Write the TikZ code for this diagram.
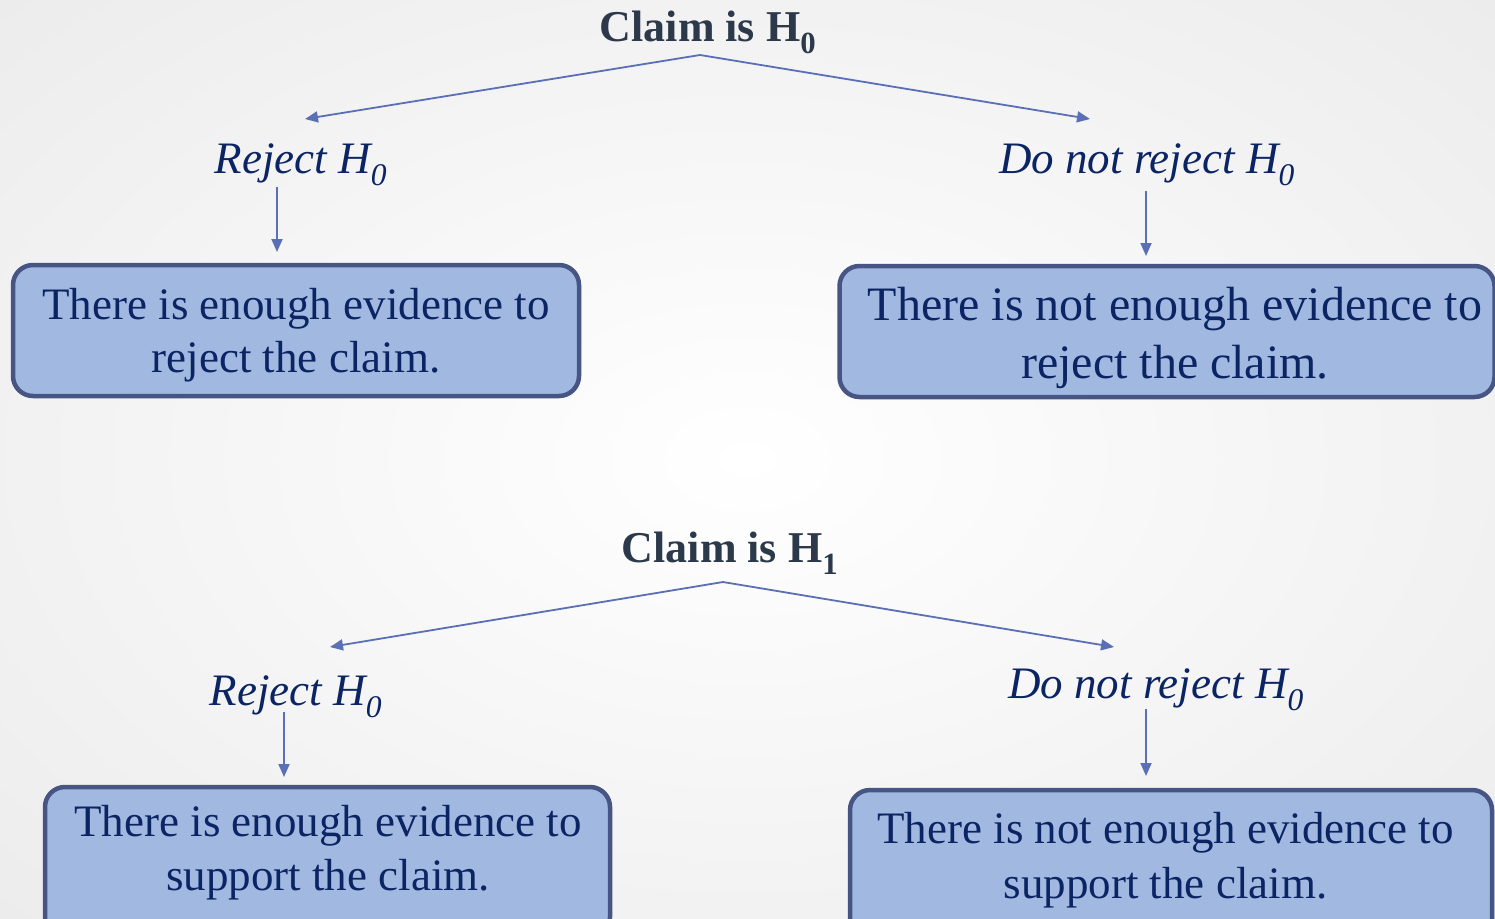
\documentclass[tikz,border=0pt]{standalone}
\usepackage{fontspec}
\setmainfont{Liberation Serif}
\usetikzlibrary{arrows.meta}
\definecolor{boxfill}{HTML}{A1B9E1}
\definecolor{boxline}{HTML}{465584}
\definecolor{boxtext}{HTML}{0B2463}
\definecolor{arr}{HTML}{5A6FB6}
\definecolor{titlec}{HTML}{2B394B}
\definecolor{bg}{HTML}{ECECEC}
\tikzset{
  titlenode/.style={font=\fontsize{44}{50}\selectfont\bfseries, text=titlec, inner sep=0pt},
  choice/.style={font=\fontsize{45}{50}\selectfont\itshape, text=boxtext, inner sep=0pt},
  resbox/.style={draw=boxline, line width=4.5pt, fill=boxfill, rounded corners=20pt, inner sep=0pt},
  restext/.style={text=boxtext, align=center, inner sep=0pt},
  conn/.style={draw=arr, line width=1.8pt, -{Triangle[length=13pt,width=11pt]}},
}
\begin{document}
\begin{tikzpicture}[x=1pt,y=-1pt]
\useasboundingbox (0,0) rectangle (1495,918);
\clip (0,0) rectangle (1495,918);
\shade[inner color=white, outer color=bg] (-300,-200) rectangle (1795,1118);
% top tree
\node[titlenode] (t1) at (708,32) {Claim is H\textsubscript{0}};
\coordinate (a1) at (700,55);
\coordinate (l1) at (305,119);
\coordinate (r1) at (1090,119);
\node[choice] (rej1) at (301,165) {Reject H\textsubscript{0}};
\node[choice] (nrej1) at (1147,165) {Do not reject H\textsubscript{0}};
\coordinate (v1s) at (277,187);
\coordinate (v1e) at (277,252);
\coordinate (v2s) at (1146,191);
\coordinate (v2e) at (1146,256);
\node[resbox, minimum width=566pt, minimum height=131pt] (b1) at (296,330.5) {};
\node[restext, font=\fontsize{45}{53}\selectfont] (b1t) at (296,335)
  {There is enough evidence to\\reject the claim.};
\node[resbox, minimum width=655pt, minimum height=131pt] (b2) at (1167,331.5) {};
\node[restext, font=\fontsize{48}{58}\selectfont] (b2t) at (1175,338)
  {There is not enough evidence to\\reject the claim.};
\draw[conn] (a1) -- (l1);
\draw[conn] (a1) -- (r1);
\draw[conn] (v1s) -- (v1e);
\draw[conn] (v2s) -- (v2e);
% bottom tree
\node[titlenode] (t2) at (730,553) {Claim is H\textsubscript{1}};
\coordinate (a2) at (723,582);
\coordinate (l2) at (330,647);
\coordinate (r2) at (1114,647);
\node[choice] (rej2) at (296,697) {Reject H\textsubscript{0}};
\node[choice] (nrej2) at (1156,690) {Do not reject H\textsubscript{0}};
\coordinate (v3s) at (284,712);
\coordinate (v3e) at (284,777);
\coordinate (v4s) at (1146,709);
\coordinate (v4e) at (1146,776);
\node[resbox, minimum width=565pt, minimum height=150pt] (b3) at (327.5,862) {};
\node[restext, font=\fontsize{45}{54}\selectfont] (b3t) at (328,852.5)
  {There is enough evidence to\\support the claim.};
\node[resbox, minimum width=642pt, minimum height=150pt] (b4) at (1171,865) {};
\node[restext, font=\fontsize{45}{55}\selectfont] (b4t) at (1165.5,860)
  {There is not enough evidence to\\support the claim.};
\draw[conn] (a2) -- (l2);
\draw[conn] (a2) -- (r2);
\draw[conn] (v3s) -- (v3e);
\draw[conn] (v4s) -- (v4e);
\end{tikzpicture}
\end{document}
